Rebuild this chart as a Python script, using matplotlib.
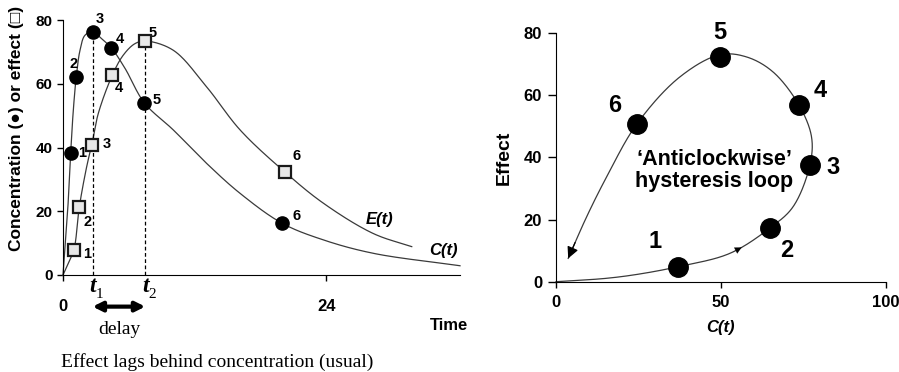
import numpy as np
import matplotlib.pyplot as plt

# values
conc_t = [0.7, 1.2, 2.7, 4.4, 7.4, 20.0]
conc_val = [38.3, 62.2, 76.3, 71.1, 54.0, 16.2]
eff_t = [1.0, 1.5, 2.6, 4.5, 7.5, 20.2]
eff_val = [8.0, 21.4, 40.8, 62.7, 73.4, 32.4]

c_curve_t = [0, 0.43, 0.7, 0.94, 1.21, 1.55, 2.0, 2.7, 3.5, 4.44, 5.66, 7.42,
             10.06, 13.1, 16.15, 20.0, 23.75, 28.3, 36.2]
c_curve_v = [0, 20.4, 38.3, 51.7, 62.2, 70.5, 75.2, 76.3, 74.2, 71.1, 64.8, 54.0,
             45.5, 35.0, 25.6, 16.2, 11.0, 6.8, 2.9]
e_curve_t = [0, 0.48, 1.0, 1.49, 2.16, 2.62, 3.22, 4.5, 5.5, 6.57, 7.55,
             10.06, 13.1, 16.15, 20.2, 23.75, 28.3, 31.8]
e_curve_v = [0, 3.7, 8.0, 21.4, 34.0, 40.8, 50.7, 62.7, 69.0, 72.6, 73.4,
             70.5, 59.0, 45.5, 32.4, 22.5, 13.0, 8.9]

loop_c = [36.9, 64.8, 77.0, 73.7, 49.7, 24.5]
loop_e = [4.8, 17.2, 37.5, 56.8, 72.3, 50.7]
loop_curve_c = [0, 15.4, 25.5, 36.9, 52.7, 64.8, 71.9, 77.0, 77.5, 73.7, 65.8,
                57.8, 49.7, 37.6, 24.5, 15.4, 9.3, 3.7]
loop_curve_e = [0, 1.1, 2.5, 4.8, 9.1, 17.2, 24.1, 37.5, 46.6, 56.8, 67.5,
                72.3, 73.0, 65.9, 50.7, 33.8, 20.9, 7.5]

point_labels = ['1', '2', '3', '4', '5', '6']

SANS = ['Liberation Sans', 'DejaVu Sans']
SERIF = ['Liberation Serif', 'DejaVu Serif']
plt.rcParams['font.family'] = SANS
plt.rcParams['font.weight'] = 'bold'
LINE = '#3a3a3a'


def smooth(xs, ys, kx, ky, n=30):
    # centripetal catmull-rom through the read points, for drawing only
    pts = np.column_stack([np.asarray(xs) * kx, np.asarray(ys) * ky])
    p = np.vstack([2 * pts[0] - pts[1], pts, 2 * pts[-1] - pts[-2]])
    out = []
    for i in range(1, len(p) - 2):
        p0, p1, p2, p3 = p[i - 1], p[i], p[i + 1], p[i + 2]
        t0 = 0.0
        t1 = t0 + np.linalg.norm(p1 - p0) ** 0.5
        t2 = t1 + np.linalg.norm(p2 - p1) ** 0.5
        t3 = t2 + np.linalg.norm(p3 - p2) ** 0.5
        t = np.linspace(t1, t2, n)[:, None]
        a1 = (t1 - t) / (t1 - t0) * p0 + (t - t0) / (t1 - t0) * p1
        a2 = (t2 - t) / (t2 - t1) * p1 + (t - t1) / (t2 - t1) * p2
        a3 = (t3 - t) / (t3 - t2) * p2 + (t - t2) / (t3 - t2) * p3
        b1 = (t2 - t) / (t2 - t0) * a1 + (t - t0) / (t2 - t0) * a2
        b2 = (t3 - t) / (t3 - t1) * a2 + (t - t1) / (t3 - t1) * a3
        out.append((t2 - t) / (t2 - t1) * b1 + (t - t1) / (t2 - t1) * b2)
    c = np.vstack(out)
    return c[:, 0] / kx, c[:, 1] / ky


fig = plt.figure(figsize=(8.99, 3.72), dpi=100)
W, H = 899, 372

# ---------------- left: time course ----------------
ax1 = fig.add_axes([63 / W, 1 - 275 / H, (460 - 63) / W, (275 - 20) / H])
ax1.set_xlim(0, 36.2)
ax1.set_ylim(0, 80)
for s in ['top', 'right']:
    ax1.spines[s].set_visible(False)

x, y = smooth(c_curve_t, c_curve_v, 10.96, 3.19)
ax1.plot(x, y, color=LINE, lw=0.9, clip_on=False)
x, y = smooth(e_curve_t, e_curve_v, 10.96, 3.19)
ax1.plot(x, y, color=LINE, lw=0.9, clip_on=False)

t1, t2 = conc_t[2], eff_t[4]
ax1.plot([t1, t1], [0, conc_val[2]], ls=(0, (3, 2)), color='k', lw=0.9)
ax1.plot([t2, t2], [0, eff_val[4]], ls=(0, (3, 2)), color='k', lw=0.9)

ax1.plot(conc_t, conc_val, 'o', ms=9.5, color='k', clip_on=False, zorder=4)
ax1.plot(eff_t, eff_val, 's', ms=8.5, mfc='#e8e8e8', mec='#1a1a1a', mew=1.6,
         clip_on=False, zorder=4)

c_offs = [(11, 0), (-3, 13), (7, 13), (9, 9), (13, 3), (14, 7)]
e_offs = [(13, -4), (8, -15), (15, 1), (7, -13), (7, 8), (12, 16)]
for lab, tx, v, off in zip(point_labels, conc_t, conc_val, c_offs):
    ax1.annotate(lab, (tx, v), xytext=off, textcoords='offset pixels',
                 ha='center', va='center', fontsize=10.5, fontweight='bold')
for lab, tx, v, off in zip(point_labels, eff_t, eff_val, e_offs):
    ax1.annotate(lab, (tx, v), xytext=off, textcoords='offset pixels',
                 ha='center', va='center', fontsize=10.5, fontweight='bold')

ax1.text(28.9, 17.5, 'E(t)', style='italic', fontweight='bold', fontsize=12,
         ha='center', va='center')
ax1.text(34.7, 7.8, 'C(t)', style='italic', fontweight='bold', fontsize=12,
         ha='center', va='center')

ax1.set_yticks([0, 20, 40, 60, 80])
ax1.set_xticks([0, 24])
ax1.tick_params(axis='y', length=4.5, width=1, pad=3, labelsize=11)
ax1.tick_params(axis='x', length=4, width=1, pad=13, labelsize=12)

# t1 / t2 markers under the axis
for tv, sub in [(t1, '1'), (t2, '2')]:
    ax1.annotate('t', (tv, 0), xytext=(0, -12), textcoords='offset pixels',
                 ha='center', va='center', family=SERIF, style='italic',
                 fontweight='bold', fontsize=17, annotation_clip=False)
    ax1.annotate(sub, (tv, 0), xytext=(7, -19), textcoords='offset pixels',
                 ha='center', va='center', family=SERIF, fontweight='normal',
                 fontsize=11, annotation_clip=False)

# delay arrow
ax1.annotate('', xy=(t2, -0.124), xytext=(t1, -0.124),
             xycoords=('data', 'axes fraction'),
             textcoords=('data', 'axes fraction'),
             arrowprops=dict(arrowstyle='<|-|>', lw=3, color='k',
                             mutation_scale=14, shrinkA=0, shrinkB=0),
             annotation_clip=False)

fig.text(119 / W, 1 - 330 / H, 'delay', family=SERIF, fontweight='normal',
         fontsize=14, ha='center', va='center')
fig.text(61 / W, 1 - 362 / H, 'Effect lags behind concentration (usual)',
         family=SERIF, fontweight='normal', fontsize=14, ha='left', va='center')
fig.text(468 / W, 1 - 325 / H, 'Time', fontsize=12, fontweight='bold',
         ha='right', va='center')
fig.text(17 / W, 1 - 128 / H, 'Concentration (\u25cf) or effect (\u25a1)',
         rotation=90, fontsize=12.5, fontweight='bold', ha='center', va='center')

# ---------------- right: hysteresis loop ----------------
ax2 = fig.add_axes([556 / W, 1 - 281.7 / H, (885.7 - 556) / W, (281.7 - 33) / H])
ax2.set_xlim(0, 100)
ax2.set_ylim(0, 80)
for s in ['top', 'right']:
    ax2.spines[s].set_visible(False)

x, y = smooth(loop_curve_c, loop_curve_e, 3.3, 3.11)
ax2.plot(x, y, color=LINE, lw=0.9, clip_on=False)
ax2.plot(loop_c, loop_e, 'o', ms=14, color='k', clip_on=False, zorder=4)

# arrow heads along the loop
ax2.annotate('', xy=(x[-1], y[-1]), xytext=(x[-12], y[-12]),
             arrowprops=dict(arrowstyle='-|>', color='k', lw=0.9,
                             mutation_scale=17, shrinkA=0, shrinkB=0))
i_mid = 4 * 30 + 5
ax2.annotate('', xy=(x[i_mid + 3], y[i_mid + 3]), xytext=(x[i_mid - 3], y[i_mid - 3]),
             arrowprops=dict(arrowstyle='-|>', color='k', lw=0.1,
                             mutation_scale=12, shrinkA=0, shrinkB=0))

r_offs = [(-23, 25), (17, -22), (23, -2), (21, 15), (0, 24), (-22, 19)]
for lab, cv, ev, off in zip(point_labels, loop_c, loop_e, r_offs):
    ax2.annotate(lab, (cv, ev), xytext=off, textcoords='offset pixels',
                 ha='center', va='center', fontsize=17, fontweight='bold')

ax2.text(48, 35.8, '\u2018Anticlockwise\u2019\nhysteresis loop', fontsize=15.5,
         fontweight='bold', ha='center', va='center', linespacing=1.1)

ax2.set_xticks([0, 50, 100])
ax2.set_yticks([0, 20, 40, 60, 80])
ax2.tick_params(axis='y', length=5.5, width=1, pad=4.5, labelsize=12)
ax2.tick_params(axis='x', length=4.5, width=1, pad=5, labelsize=12)
ax2.set_ylabel('Effect', fontsize=14, fontweight='bold', labelpad=8)
ax2.set_xlabel('C(t)', fontsize=12, fontweight='bold', style='italic', labelpad=7)

fig.savefig('out.png', dpi=100)
